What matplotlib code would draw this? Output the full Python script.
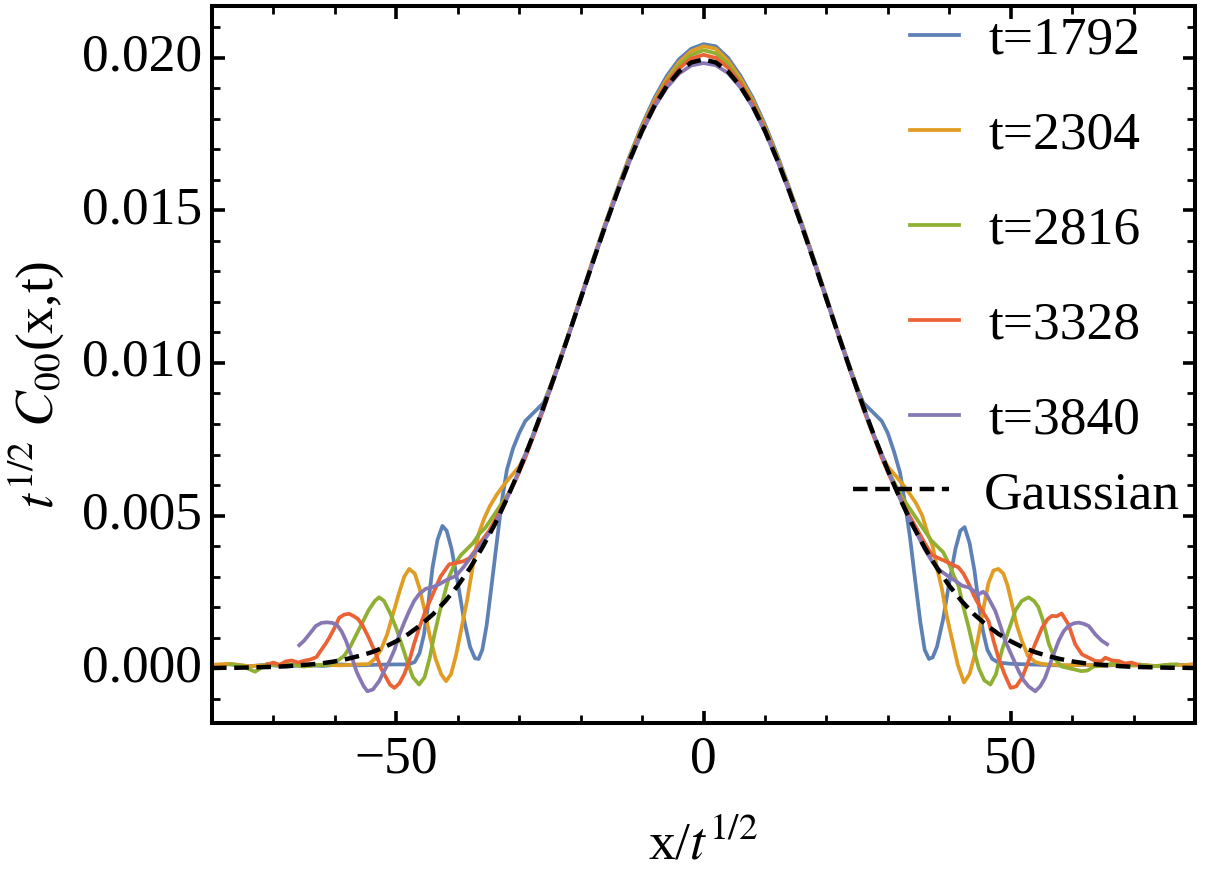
import matplotlib
matplotlib.use("Agg")
import matplotlib.pyplot as plt
from matplotlib.ticker import FixedLocator, FixedFormatter, MultipleLocator

plt.rcParams['font.family'] = ['Liberation Serif', 'DejaVu Serif']
plt.rcParams['mathtext.fontset'] = 'stix'
plt.rcParams['lines.scale_dashes'] = False

# ---------------- data ----------------
labels = ['t=1792', 't=2304', 't=2816', 't=3328', 't=3840']
colors = ['#5E81B5', '#E19C24', '#8FB032', '#EB6235', '#8778B3']

center_x = [-24, -22, -20, -18, -16, -14, -12, -10, -8, -6, -4, -2, 0,
            2, 4, 6, 8, 10, 12, 14, 16, 18, 20, 22, 24]

# t = 1792
blue_x = ([-80, -77, -74, -71, -68, -65, -62, -59, -56, -53, -50, -48, -47, -46.2, -45.5,
           -44.8, -44.1, -43.3, -42.5, -41.8, -41, -40, -39, -38, -37.2, -36.6, -36, -35.3,
           -34.5, -33.6, -32.8, -32, -31, -30, -29, -28, -27, -26, -25]
          + center_x +
          [25, 26, 27, 28, 29, 30, 31, 32, 32.8, 33.6, 34.5, 35.3, 36, 36.7, 37.3, 38, 39, 40,
           41, 41.8, 42.5, 43.3, 44.1, 44.8, 45.5, 46.2, 47, 48, 50, 53, 56, 59, 62, 65, 68,
           71, 74, 77, 80])
blue_y = ([0.00008, 0.00013, 0.00006, 0.00011, 0.00005, 0.00010, 0.00007, 0.00012, 0.00009,
           0.00011, 0.00012, 0.00012, 0.00020, 0.0005, 0.0011, 0.0021, 0.0033, 0.0042, 0.00466,
           0.0045, 0.0039, 0.0028, 0.0016, 0.0007, 0.00032, 0.00030, 0.0006, 0.0014, 0.0027,
           0.0042, 0.0055, 0.0065, 0.0072, 0.0077, 0.0081, 0.0083, 0.0085, 0.0087, 0.0092]
          + [0.00975, 0.01093, 0.01215, 0.01338, 0.01457, 0.01571, 0.01680, 0.01780, 0.01868,
             0.01940, 0.01995, 0.02030, 0.02045, 0.02038, 0.02000, 0.01942, 0.01870, 0.01782,
             0.01682, 0.01572, 0.01458, 0.01339, 0.01216, 0.01094, 0.00976] +
          [0.0092, 0.0087, 0.0085, 0.0083, 0.0081, 0.0077, 0.0071, 0.0064, 0.0054, 0.0043,
           0.0028, 0.0015, 0.0006, 0.00030, 0.00035, 0.0007, 0.0016, 0.0028, 0.0039, 0.0045,
           0.00462, 0.0041, 0.0032, 0.0021, 0.0012, 0.0006, 0.0003, 0.00018, 0.00014, 0.00012,
           0.00010, 0.00008, 0.00011, 0.00007, 0.00012, 0.00009, 0.00006, 0.00011, 0.00008])

# t = 2304
orange_x = ([-80, -77, -74, -71, -68, -65, -62, -59, -56.5, -54.5, -53.5, -52.5, -51.5, -50.5,
             -49.5, -48.7, -47.9, -47, -46.2, -45.4, -44.5, -43.6, -42.7, -41.9, -41.1, -40.3,
             -39.4, -38.5, -37.5, -36.6, -35.7, -34.8, -33.6, -32.5, -31.3, -30, -29, -28, -27,
             -26, -25]
            + center_x +
            [25, 26, 27, 28, 29, 30, 31.3, 32.5, 33.6, 34.6, 35.6, 36.5, 37.3, 38.1, 38.8, 39.6,
             40.5, 41.4, 42.4, 43.3, 44.1, 44.8, 45.6, 46.4, 47.2, 48, 48.8, 49.5, 50.2, 51,
             51.8, 52.8, 54, 55, 56, 58, 60, 62, 64, 66, 68, 70, 72, 74, 76, 78, 80])
orange_y = ([0.00011, 0.00014, 0.00006, 0.00010, 0.00013, 0.00007, 0.00011, 0.00009, 0.00012,
             0.00013, 0.0003, 0.0006, 0.0011, 0.0018, 0.0025, 0.0030, 0.00325, 0.0031, 0.0026,
             0.0019, 0.0010, 0.0003, -0.0002, -0.00043, -0.0002, 0.0004, 0.0013, 0.0022,
             0.0034, 0.0044, 0.0049, 0.0053, 0.0057, 0.0060, 0.0063, 0.0066, 0.0070, 0.0075,
             0.0080, 0.0086, 0.0092]
            + [0.00973, 0.01091, 0.01213, 0.01335, 0.01454, 0.01567, 0.01675, 0.01774, 0.01860,
               0.01930, 0.01985, 0.02022, 0.02038, 0.02030, 0.01990, 0.01933, 0.01862, 0.01775,
               0.01676, 0.01568, 0.01455, 0.01336, 0.01214, 0.01092, 0.00974] +
            [0.0092, 0.0086, 0.0080, 0.0075, 0.0070, 0.0066, 0.0063, 0.0060, 0.0057, 0.0054,
             0.0050, 0.0044, 0.0040, 0.0032, 0.0026, 0.0017, 0.0009, 0.0001, -0.00047, -0.0002,
             0.0004, 0.0011, 0.0020, 0.0028, 0.0032, 0.00325, 0.0031, 0.0027, 0.0021, 0.0014,
             0.0009, 0.0004, 0.0002, 0.00014, 0.00012, 0.00010, 0.00009, 0.00012, 0.00006,
             0.00010, 0.00013, 0.00008, 0.00010, 0.00006, 0.00012, 0.00009, 0.00014])

# t = 2816
green_x = ([-77, -75, -73, -71, -69, -67, -65, -63, -61.5, -60.5, -59.5, -58.5, -57.5, -56.5,
            -55.5, -54.5, -53.5, -52.8, -52, -51, -50, -49, -48.2, -47.3, -46.3, -45.4, -44.6,
            -43.8, -43, -42.2, -41.4, -40.5, -39.5, -38.5, -37.5, -36.5, -35.5, -34.5, -33.5,
            -32.5, -31.5, -30.5, -29.5, -28.5, -27.5, -26.5, -25.5]
           + center_x +
           [25, 26, 27, 28, 29, 30, 31, 32, 33, 34, 35, 36, 37, 38, 39, 40, 40.8, 41.5, 42.3,
            43.2, 44, 44.8, 45.7, 46.7, 47.6, 48.6, 49.6, 50.8, 51.8, 52.9, 53.8, 54.5, 55.2,
            56.2, 57.2, 58.3, 59.4, 60.5, 61.5, 62.5, 63.5, 65, 67, 69, 71, 73, 75, 77])
green_y = ([0.00012, 0.00006, -0.00012, 0.00014, 0.00008, 0.00011, 0.00005, 0.00010, 0.00010,
            0.00015, 0.00025, 0.0004, 0.0007, 0.0011, 0.0015, 0.0019, 0.0022, 0.00232, 0.0022,
            0.0018, 0.0013, 0.0007, 0.0002, -0.0003, -0.00054, -0.0003, 0.0003, 0.0011, 0.0018,
            0.0024, 0.0030, 0.0034, 0.0037, 0.0039, 0.0041, 0.0044, 0.0046, 0.0049, 0.0052,
            0.0055, 0.0058, 0.0062, 0.0067, 0.0072, 0.0078, 0.0083, 0.0089]
           + [0.00971, 0.01090, 0.01211, 0.01333, 0.01452, 0.01565, 0.01672, 0.01770, 0.01854,
              0.01922, 0.01975, 0.02010, 0.02025, 0.02015, 0.01978, 0.01923, 0.01855, 0.01770,
              0.01672, 0.01565, 0.01452, 0.01333, 0.01211, 0.01090, 0.00971] +
           [0.0092, 0.0086, 0.0080, 0.0075, 0.0070, 0.0065, 0.0061, 0.0057, 0.0054, 0.0051,
            0.0048, 0.0045, 0.0042, 0.0040, 0.0038, 0.0034, 0.0030, 0.0027, 0.0020, 0.0013,
            0.0006, 0.0000, -0.0004, -0.00054, -0.0002, 0.0006, 0.0012, 0.0019, 0.0022, 0.00232,
            0.0022, 0.0020, 0.0016, 0.0008, 0.0003, 0.00005, 0.0, -0.00005, -0.0001, -0.00008,
            0.00005, 0.0001, 0.00015, 0.00008, 0.00012, 0.00005, 0.0001, 0.00012])

# t = 3328
red_x = ([-71, -70, -69, -68, -67, -66, -65, -64, -63, -62.2, -61.5, -60.9, -60.1, -59.3, -58.5,
          -57.7, -56.9, -56.2, -55.5, -54.5, -53.3, -52.5, -51.7, -51, -50.3, -49.5, -48.7,
          -47.9, -47.1, -46.3, -45.2, -44.1, -42.8, -41.4, -40.2, -39.1, -38.1, -37, -36, -34.9,
          -33.5, -32, -30.5, -29, -27.5, -26, -25]
         + center_x +
         [25, 26, 27.5, 29, 30.5, 32, 33.5, 34.9, 36, 37.2, 38.3, 39.4, 40.4, 41.5, 42.3, 43.2,
          44.2, 45.3, 46.4, 47.2, 48, 49, 50, 50.9, 51.9, 52.9, 54, 55.1, 56, 56.7, 57.5, 58.3,
          59.4, 60.5, 61.6, 62.7, 63.8, 64.8, 65.4, 66.5, 67.6, 68.6, 69.7, 70.8])
red_y = ([0.00012, 0.00018, 0.00010, 0.00022, 0.00025, 0.00018, 0.00024, 0.00028, 0.00036,
          0.0006, 0.0008, 0.0010, 0.0013, 0.00165, 0.00175, 0.00178, 0.0017, 0.0016, 0.0014,
          0.0010, 0.00045, 0.0000, -0.0003, -0.00055, -0.00065, -0.0005, -0.0002, 0.00023,
          0.0008, 0.0013, 0.0019, 0.0024, 0.0030, 0.0034, 0.00345, 0.0035, 0.0036, 0.0039,
          0.0042, 0.0045, 0.0050, 0.0056, 0.0062, 0.0069, 0.0077, 0.0085, 0.0091]
         + [0.00970, 0.01089, 0.01210, 0.01332, 0.01450, 0.01562, 0.01668, 0.01765, 0.01850,
            0.01918, 0.01965, 0.01998, 0.02010, 0.02000, 0.01967, 0.01918, 0.01850, 0.01765,
            0.01668, 0.01562, 0.01450, 0.01332, 0.01210, 0.01089, 0.00967] +
         [0.0091, 0.0085, 0.0077, 0.0069, 0.0062, 0.0056, 0.0050, 0.0045, 0.0041, 0.0037,
          0.0036, 0.0035, 0.0034, 0.0033, 0.0031, 0.00275, 0.0023, 0.0019, 0.00154, 0.0009,
          0.00034, -0.0002, -0.00065, -0.0006, -0.0003, 0.00023, 0.0008, 0.00132, 0.0016,
          0.00171, 0.0017, 0.00179, 0.00143, 0.00078, 0.00045, 0.00034, 0.00023, 0.00023,
          0.00034, 0.00025, 0.00023, 0.00015, 0.00018, 0.00010])

# t = 3840
purple_x = ([-65.8, -65, -64.2, -63.1, -62.2, -61.3, -60.4, -59.6, -58.9, -58.2, -57.2, -56.5,
             -56, -55.3, -54.7, -53.8, -52.8, -52, -51.1, -50.3, -49.5, -48.7, -47.9, -47.1,
             -46.3, -45.2, -44.1, -43, -41.7, -40.3, -39.1, -38, -37, -36, -35, -34, -33, -32,
             -31, -30, -29, -28, -27, -26, -25]
            + center_x +
            [25, 26, 27, 28, 29, 30, 31, 32, 33, 34, 35, 36, 37.2, 38.5, 39.9, 41, 42.1, 43.2,
             44.8, 45.5, 46.1, 47.5, 48.3, 49.1, 50.2, 51.3, 52.1, 52.9, 54, 54.8, 55.6, 56.7,
             57.8, 58.6, 59.4, 60.3, 61.1, 61.9, 62.7, 63.8, 64.8, 65.7])
purple_y = ([0.00075, 0.0009, 0.0011, 0.00138, 0.00148, 0.0015, 0.00148, 0.0014, 0.0012, 0.0009,
             0.00034, -0.0001, -0.00032, -0.0006, -0.00076, -0.0007, -0.00043, -0.0001, 0.00023,
             0.0006, 0.0011, 0.0015, 0.00187, 0.0022, 0.00242, 0.0026, 0.00265, 0.00275, 0.0029,
             0.00302, 0.0033, 0.0036, 0.00384, 0.0041, 0.0044, 0.0047, 0.0051, 0.00555, 0.0060,
             0.0065, 0.0070, 0.0075, 0.0080, 0.0086, 0.0091]
            + [0.00968, 0.01087, 0.01208, 0.01329, 0.01447, 0.01558, 0.01662, 0.01757, 0.01838,
               0.01902, 0.01948, 0.01975, 0.01983, 0.01976, 0.01950, 0.01903, 0.01839, 0.01758,
               0.01663, 0.01559, 0.01448, 0.01330, 0.01209, 0.01088, 0.00968] +
            [0.0091, 0.0086, 0.0080, 0.0075, 0.0070, 0.0065, 0.0060, 0.00555, 0.0051, 0.0047,
             0.0043, 0.0039, 0.0035, 0.0032, 0.0030, 0.00286, 0.0027, 0.00264, 0.00242, 0.0025,
             0.0024, 0.00187, 0.0014, 0.00089, 0.0004, -0.0001, -0.0004, -0.0006, -0.00076,
             -0.0006, -0.00032, 0.0003, 0.00089, 0.0012, 0.00138, 0.00147, 0.00149, 0.00145,
             0.00138, 0.0011, 0.0009, 0.00078])

# Gaussian reference curve (sampled)
gauss_x = [-80, -78, -76, -74, -72, -70, -68, -66, -64, -62, -60, -58, -56, -54, -52, -50, -48,
           -46, -44, -42, -40, -38, -36, -34, -32, -30, -28, -26, -24, -22, -20, -18, -16, -14,
           -12, -10, -8, -6, -4, -2, 0, 2, 4, 6, 8, 10, 12, 14, 16, 18, 20, 22, 24, 26, 28, 30,
           32, 34, 36, 38, 40, 42, 44, 46, 48, 50, 52, 54, 56, 58, 60, 62, 64, 66, 68, 70, 72,
           74, 76, 78, 80]
gauss_y = [0.00000, 0.00001, 0.00001, 0.00002, 0.00003, 0.00004, 0.00006, 0.00009, 0.00012,
           0.00016, 0.00022, 0.00030, 0.00040, 0.00052, 0.00068, 0.00088, 0.00112, 0.00142,
           0.00177, 0.00220, 0.00270, 0.00328, 0.00395, 0.00470, 0.00555, 0.00648, 0.00749,
           0.00857, 0.00971, 0.01089, 0.01210, 0.01331, 0.01449, 0.01561, 0.01666, 0.01761,
           0.01842, 0.01907, 0.01955, 0.01985, 0.01995, 0.01985, 0.01955, 0.01907, 0.01842,
           0.01761, 0.01666, 0.01561, 0.01449, 0.01331, 0.01210, 0.01089, 0.00971, 0.00857,
           0.00749, 0.00648, 0.00555, 0.00470, 0.00395, 0.00328, 0.00270, 0.00220, 0.00177,
           0.00142, 0.00112, 0.00088, 0.00068, 0.00052, 0.00040, 0.00030, 0.00022, 0.00016,
           0.00012, 0.00009, 0.00006, 0.00004, 0.00003, 0.00002, 0.00001, 0.00001, 0.00000]

series_x = [blue_x, orange_x, green_x, red_x, purple_x]
series_y = [blue_y, orange_y, green_y, red_y, purple_y]

xtick_vals = [-50, 0, 50]
xtick_labels = ['\u221250', '0', '50']
ytick_vals = [0.000, 0.005, 0.010, 0.015, 0.020]
ytick_labels = ['0.000', '0.005', '0.010', '0.015', '0.020']

# ---------------- figure ----------------
FS = 38.5
fig = plt.figure(figsize=(12.06, 8.72), dpi=100)
ax = fig.add_axes([212/1206, (872-723)/872, (1195-212)/1206, (723-6)/872])

handles = []
for xs, ys, c, lab in zip(series_x, series_y, colors, labels):
    h, = ax.plot(xs, ys, color=c, lw=2.7, label=lab, solid_joinstyle='round')
    handles.append(h)
gh, = ax.plot(gauss_x, gauss_y, color='black', lw=3.2, dashes=(10.5, 5.5), label='Gaussian')

ax.set_xlim(-80, 80)
ax.set_ylim(-0.0018, 0.0217)

ax.xaxis.set_major_locator(FixedLocator(xtick_vals))
ax.xaxis.set_major_formatter(FixedFormatter(xtick_labels))
ax.xaxis.set_minor_locator(MultipleLocator(10))
ax.yaxis.set_major_locator(FixedLocator(ytick_vals))
ax.yaxis.set_major_formatter(FixedFormatter(ytick_labels))
ax.yaxis.set_minor_locator(MultipleLocator(0.001))

ax.tick_params(which='both', direction='in', top=True, right=True, labelsize=FS, color='black')
ax.tick_params(which='major', length=9, width=2.6, pad=7)
ax.tick_params(which='minor', length=6, width=2.0)
ax.tick_params(axis='x', which='major', pad=9)
for s in ax.spines.values():
    s.set_linewidth(2.9)

# y tick labels sit slightly above their ticks in the reference
plt.setp(ax.get_yticklabels(), va='center')

ax.set_xlabel(r'x/$t^{1/2}$', fontsize=FS)
ax.set_ylabel(r'$t^{1/2}\ C_{00}$(x,t)', fontsize=FS)
ax.xaxis.set_label_coords(0.5, (723-821)/717)
ax.yaxis.set_label_coords((66-212)/983, (723-385)/717)

leg1 = ax.legend(handles=handles, loc='upper left', frameon=False, fontsize=FS,
                 bbox_to_anchor=(910/1206, (872-16)/872), bbox_transform=fig.transFigure,
                 borderpad=0, borderaxespad=0, handlelength=0.91, handletextpad=0.55,
                 labelspacing=0.87)
ax.add_artist(leg1)
leg2 = ax.legend(handles=[gh], loc='center left', frameon=False, fontsize=FS,
                 bbox_to_anchor=(853/1206, (872-495)/872), bbox_transform=fig.transFigure,
                 borderpad=0, borderaxespad=0, handlelength=1.8, handletextpad=0.64)

fig.savefig('out.png', dpi=100)
